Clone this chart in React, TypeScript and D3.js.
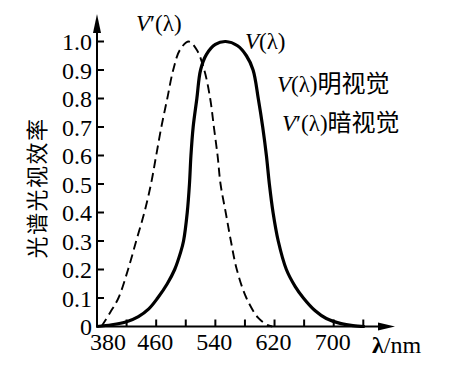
import * as d3 from "d3";

// wavelengths (nm) and relative luminous efficiency
const photopicNm = [380, 400, 420, 436, 450, 462, 475, 485, 493, 497, 502, 505, 507, 510, 515, 520, 528, 540, 554, 570, 582, 591, 598, 604, 609, 613, 618, 625, 636, 648, 659, 675, 690, 710, 726, 742];
const photopicV = [0, 0.006, 0.017, 0.035, 0.062, 0.1, 0.15, 0.2, 0.26, 0.3, 0.4, 0.5, 0.6, 0.7, 0.8, 0.9, 0.955, 0.99, 1.0, 0.985, 0.95, 0.9, 0.8, 0.7, 0.6, 0.5, 0.4, 0.3, 0.2, 0.14, 0.1, 0.055, 0.028, 0.01, 0.003, 0];

const scotopicNm = [386, 398, 409, 422, 433, 444, 453, 460, 467, 475, 483, 492, 504, 515, 525, 533, 538, 543, 547, 554, 561, 569, 582, 598, 610, 617];
const scotopicV = [0, 0.05, 0.1, 0.2, 0.3, 0.4, 0.5, 0.6, 0.7, 0.8, 0.9, 0.97, 1.0, 0.97, 0.9, 0.8, 0.7, 0.6, 0.5, 0.4, 0.3, 0.2, 0.1, 0.03, 0.006, 0];

const xTicks = [380, 420, 460, 500, 540, 580, 620, 660, 700, 740];
const xLabels = [380, 460, 540, 620, 700];
const yTicks = [0, 0.1, 0.2, 0.3, 0.4, 0.5, 0.6, 0.7, 0.8, 0.9, 1.0];

const SERIF = "'Liberation Serif', 'DejaVu Serif', serif";
const CJK = "'Noto Sans CJK SC', sans-serif";

export default function App() {
  const W = 463, H = 388;
  const sx = d3.scaleLinear().domain([380, 740]).range([97, 363.3]);
  const sy = d3.scaleLinear().domain([0, 1]).range([326.5, 41.5]);
  const x0 = sx(380), y0 = sy(0);

  const line = d3.line<[number, number]>()
    .x(d => sx(d[0]))
    .y(d => sy(d[1]))
    .curve(d3.curveCatmullRom.alpha(0.5));

  const photo = photopicNm.map((n, i) => [n, photopicV[i]] as [number, number]);
  const scoto = scotopicNm.map((n, i) => [n, scotopicV[i]] as [number, number]);

  return (
    <svg width={W} height={H} viewBox={`0 0 ${W} ${H}`} style={{ position: "absolute", left: 0, top: 0, background: "#fff" }}>
      {/* curves */}
      <path d={line(scoto) || ""} fill="none" stroke="#000" strokeWidth="1.9" strokeDasharray="9 5" />
      <path d={line(photo) || ""} fill="none" stroke="#000" strokeWidth="3.2" />

      {/* axes */}
      <line x1={x0} x2={x0} y1={y0 + 1} y2={28} stroke="#000" strokeWidth="2" />
      <path d={`M${x0},14 L${x0 - 4},33 L${x0 + 4},33 Z`} fill="#000" />
      <line x1={x0 - 1} x2={380} y1={y0} y2={y0} stroke="#000" strokeWidth="2" />
      <path d={`M395,${y0} L378,${y0 - 4} L378,${y0 + 4} Z`} fill="#000" />

      {yTicks.map((t, i) => (
        <g key={i}>
          {t > 0 && <line x1={x0} x2={x0 + 7} y1={sy(t)} y2={sy(t)} stroke="#000" strokeWidth="2" />}
          <text x={92} y={sy(t) + 8.5} textAnchor="end" fontFamily={SERIF} fontSize="24">{t === 0 ? "0" : t.toFixed(1)}</text>
        </g>
      ))}
      {xTicks.map((t, i) => t > 380 && (
        <line key={i} x1={sx(t)} x2={sx(t)} y1={y0} y2={y0 - 7} stroke="#000" strokeWidth="2" />
      ))}
      {xLabels.map((t, i) => (
        <text key={i} x={sx(t) + (t === 380 ? 11 : -1)} y={350} textAnchor="middle" fontFamily={SERIF} fontSize="24">{t}</text>
      ))}
      <text x={372} y={353} fontFamily={SERIF} fontSize="24">
        <tspan fontWeight="bold">λ</tspan>/nm
      </text>

      {/* y-axis title */}
      <text transform={`translate(45 ${188}) rotate(-90)`} textAnchor="middle" fontFamily={CJK} fontSize="22" letterSpacing="1.5">光谱光视效率</text>

      {/* curve labels */}
      <text x={136} y={31} fontFamily={SERIF} fontSize="23"><tspan fontStyle="italic">V</tspan>′(λ)</text>
      <text x={245} y={49} fontFamily={SERIF} fontSize="23"><tspan fontStyle="italic">V</tspan>(λ)</text>
      <text x={277} y={92} fontFamily={SERIF} fontSize="23">
        <tspan fontStyle="italic">V</tspan>(λ)<tspan fontFamily={CJK} fontSize="24">明视觉</tspan>
      </text>
      <text x={282} y={131} fontFamily={SERIF} fontSize="23">
        <tspan fontStyle="italic">V</tspan>′(λ)<tspan fontFamily={CJK} fontSize="24">暗视觉</tspan>
      </text>
    </svg>
  );
}
